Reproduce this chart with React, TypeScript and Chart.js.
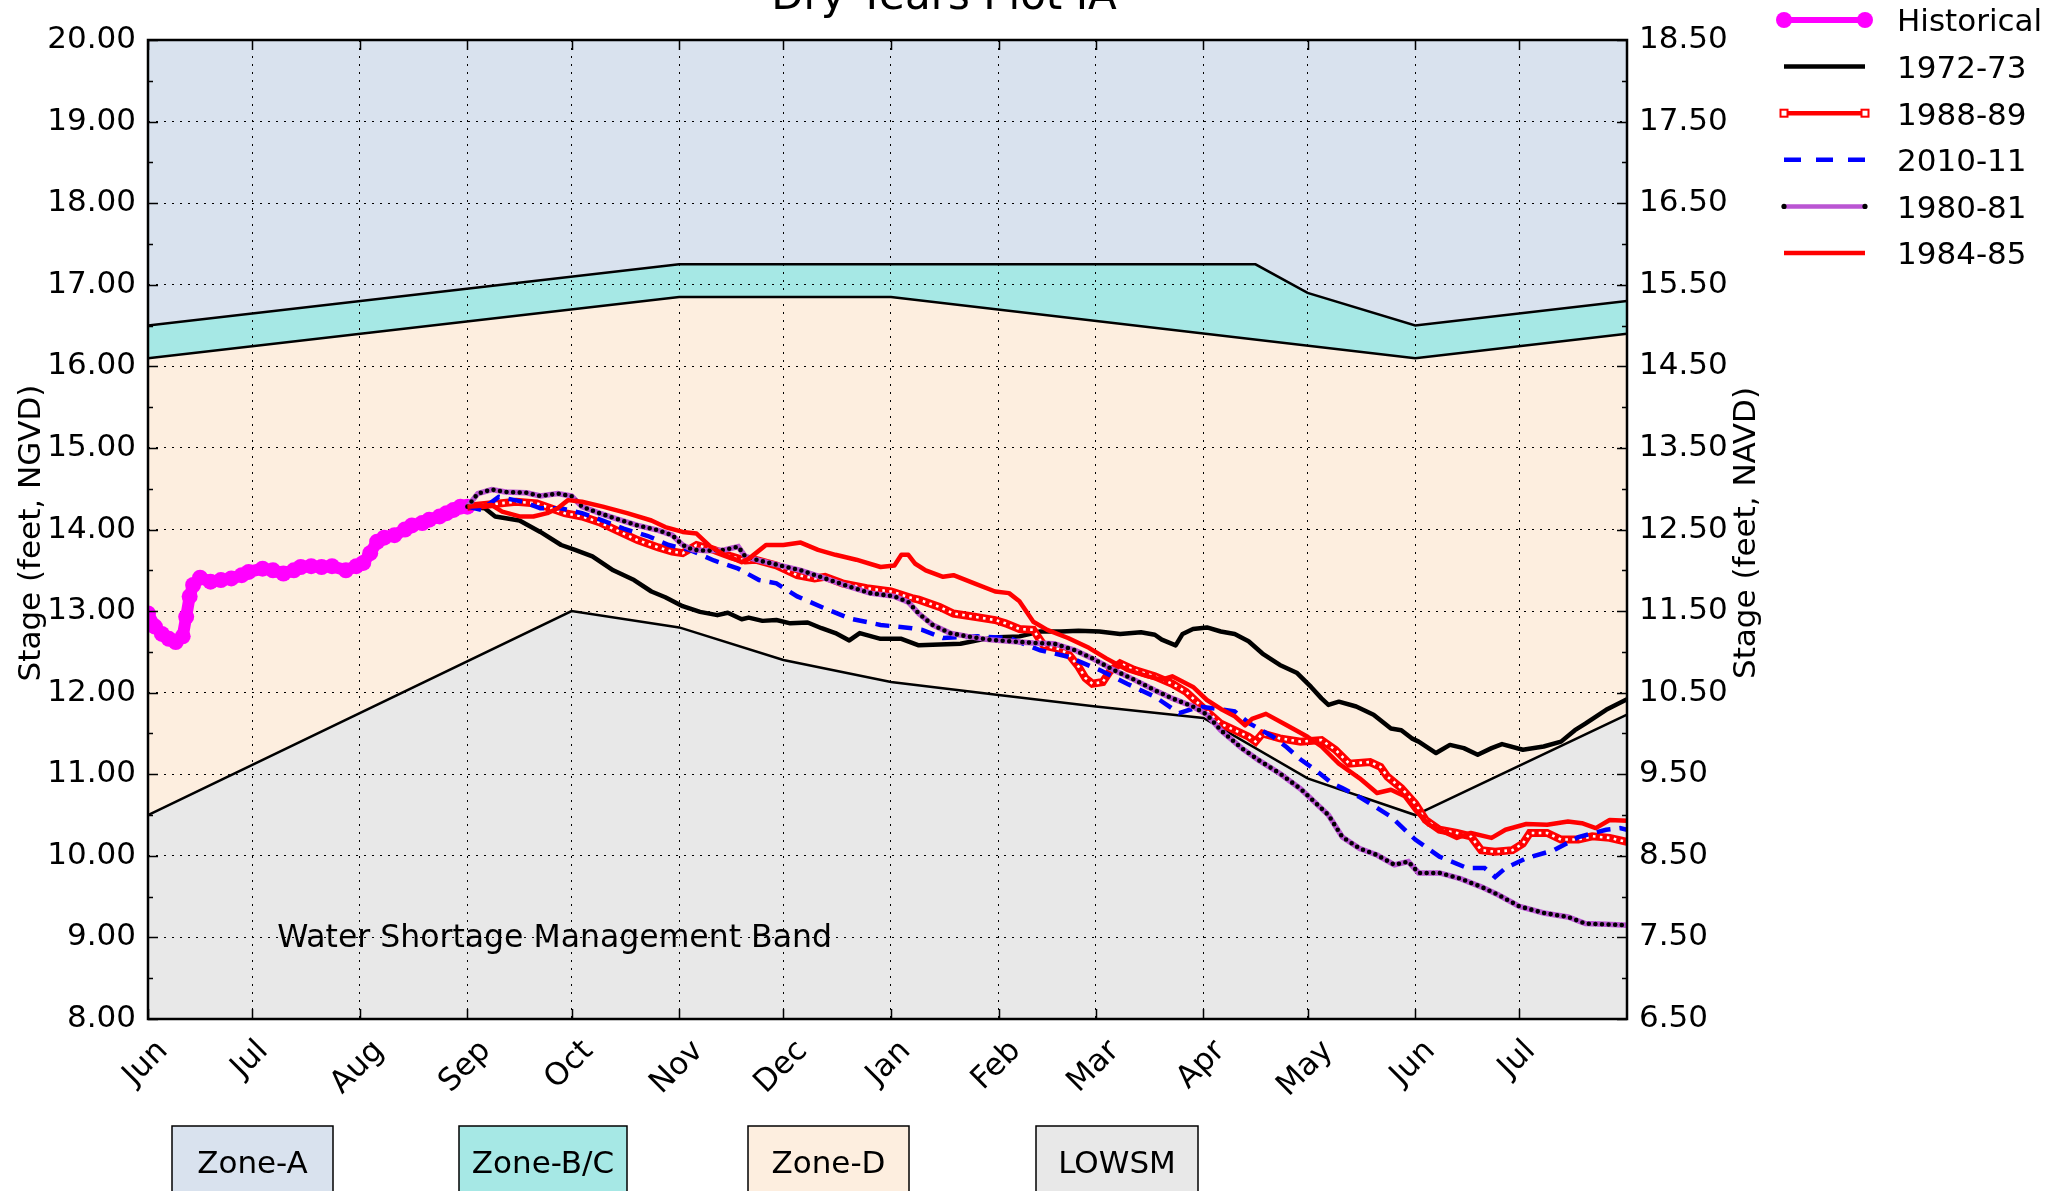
import React, { useEffect, useRef } from 'react';
import { Chart, registerables } from 'chart.js';

Chart.register(...registerables);

const W = 2057;
const H = 1191;
const FONT = '"DejaVu Sans", "Noto Sans", sans-serif';

// ---------- axis data ----------
const MONTH_LABELS = ['Jun', 'Jul', 'Aug', 'Sep', 'Oct', 'Nov', 'Dec', 'Jan', 'Feb', 'Mar', 'Apr', 'May', 'Jun', 'Jul'];
const MONTH_DAYS = [0, 30, 61, 92, 122, 153, 183, 214, 245, 273, 304, 334, 365, 395];
const X_MIN = 0;
const X_MAX = 426;
const Y_LEFT_TICKS = [8, 9, 10, 11, 12, 13, 14, 15, 16, 17, 18, 19, 20];
const Y_RIGHT_TICKS = [6.5, 7.5, 8.5, 9.5, 10.5, 11.5, 12.5, 13.5, 14.5, 15.5, 16.5, 17.5, 18.5];
const TITLE = 'Dry Years Plot IA';
const LEFT_TITLE = 'Stage (feet, NGVD)';
const RIGHT_TITLE = 'Stage (feet, NAVD)';
const BAND_TEXT = 'Water Shortage Management Band';

// ---------- zone boundaries ----------
const ZONE_A_DAYS = [0, 153, 319, 334, 365, 426];
const ZONE_A_VALS = [16.5, 17.25, 17.25, 16.9, 16.5, 16.8];
const ZONE_D_DAYS = [0, 153, 214, 365, 426];
const ZONE_D_VALS = [16.1, 16.85, 16.85, 16.1, 16.4];
const LOWSM_DAYS = [0, 122, 153, 183, 214, 245, 273, 304, 334, 365, 426];
const LOWSM_VALS = [10.5, 13.0, 12.8, 12.4, 12.13, 11.97, 11.83, 11.69, 10.95, 10.5, 11.73];

const ZONE_NAMES = ['Zone-A', 'Zone-B/C', 'Zone-D', 'LOWSM'];
const ZONE_COLORS = ['#D9E2EE', '#A6E8E5', '#FDEEDF', '#E8E8E8'];

// ---------- series ----------
const HIST_DAYS = [0, 2, 4, 6, 8, 10, 11, 12, 13, 15, 18, 21, 24, 27, 29, 33, 36, 39, 42, 44, 47, 50, 53, 57, 60, 62, 64, 66, 68, 71, 74, 76, 79, 81, 84, 86, 88, 90, 92];
const HIST_VALS = [12.97, 12.81, 12.72, 12.66, 12.62, 12.69, 12.93, 13.18, 13.32, 13.41, 13.36, 13.38, 13.40, 13.44, 13.48, 13.52, 13.50, 13.46, 13.50, 13.54, 13.55, 13.54, 13.55, 13.50, 13.55, 13.59, 13.71, 13.85, 13.90, 13.93, 14.00, 14.05, 14.08, 14.12, 14.16, 14.20, 14.24, 14.28, 14.28];

const Y1972_DAYS = [92, 97, 100, 107, 113, 119, 123, 128, 134, 140, 145, 149, 154, 159, 164, 167, 171, 173, 177, 181, 185, 190, 194, 198, 202, 205, 211, 217, 222, 234, 240, 245, 251, 257, 263, 268, 274, 280, 286, 290, 292, 296, 298, 301, 305, 309, 313, 317, 321, 326, 331, 335, 338, 340, 343, 348, 353, 358, 361, 364, 366, 371, 375, 379, 383, 387, 390, 396, 402, 407, 411, 414, 420, 426];
const Y1972_VALS = [14.28, 14.26, 14.16, 14.11, 13.97, 13.81, 13.75, 13.67, 13.50, 13.38, 13.24, 13.17, 13.06, 12.99, 12.95, 12.98, 12.90, 12.92, 12.88, 12.89, 12.85, 12.86, 12.79, 12.73, 12.64, 12.73, 12.66, 12.66, 12.58, 12.60, 12.65, 12.68, 12.69, 12.75, 12.75, 12.76, 12.75, 12.72, 12.74, 12.71, 12.65, 12.58, 12.72, 12.78, 12.80, 12.75, 12.72, 12.63, 12.48, 12.34, 12.24, 12.07, 11.93, 11.85, 11.89, 11.83, 11.73, 11.56, 11.54, 11.44, 11.40, 11.26, 11.36, 11.32, 11.24, 11.32, 11.37, 11.30, 11.34, 11.40, 11.54, 11.62, 11.79, 11.92];

const Y1988_DAYS = [92, 99, 106, 112, 116, 120, 125, 130, 135, 141, 147, 151, 154, 158, 163, 168, 172, 175, 181, 187, 192, 195, 200, 207, 214, 220, 222, 228, 232, 238, 244, 247, 251, 255, 258, 262, 265, 268, 270, 272, 275, 277, 280, 284, 290, 295, 299, 301, 305, 309, 313, 317, 319, 321, 326, 332, 338, 342, 346, 352, 355, 357, 361, 365, 368, 372, 377, 381, 384, 388, 393, 396, 398, 403, 407, 412, 416, 421, 426];
const Y1988_VALS = [14.28, 14.31, 14.34, 14.32, 14.26, 14.20, 14.16, 14.09, 13.99, 13.87, 13.78, 13.73, 13.71, 13.81, 13.75, 13.67, 13.62, 13.63, 13.56, 13.44, 13.40, 13.42, 13.34, 13.28, 13.24, 13.16, 13.14, 13.05, 12.97, 12.93, 12.89, 12.85, 12.78, 12.77, 12.58, 12.54, 12.48, 12.32, 12.18, 12.11, 12.13, 12.26, 12.36, 12.28, 12.20, 12.11, 12.01, 11.93, 11.77, 11.62, 11.54, 11.46, 11.40, 11.50, 11.44, 11.40, 11.42, 11.30, 11.13, 11.15, 11.09, 10.97, 10.83, 10.64, 10.44, 10.32, 10.28, 10.24, 10.07, 10.05, 10.07, 10.15, 10.28, 10.28, 10.20, 10.20, 10.24, 10.22, 10.17];

const Y2010_DAYS = [92, 96, 101, 108, 113, 119, 125, 131, 137, 144, 150, 156, 163, 170, 176, 181, 187, 194, 202, 211, 220, 223, 229, 239, 248, 257, 265, 274, 282, 290, 297, 303, 313, 317, 324, 328, 332, 336, 341, 344, 349, 358, 365, 372, 380, 385, 388, 391, 397, 405, 412, 420, 424, 426];
const Y2010_VALS = [14.28, 14.24, 14.40, 14.34, 14.26, 14.26, 14.20, 14.11, 14.01, 13.92, 13.81, 13.75, 13.62, 13.52, 13.38, 13.34, 13.18, 13.05, 12.91, 12.83, 12.79, 12.77, 12.67, 12.69, 12.67, 12.52, 12.44, 12.28, 12.11, 11.95, 11.75, 11.83, 11.77, 11.63, 11.46, 11.33, 11.18, 11.06, 10.89, 10.83, 10.72, 10.48, 10.20, 9.99, 9.85, 9.85, 9.74, 9.85, 9.97, 10.07, 10.23, 10.32, 10.34, 10.32];

const Y1980_DAYS = [92, 95, 99, 103, 109, 113, 118, 122, 125, 130, 135, 141, 147, 151, 154, 157, 161, 166, 170, 172, 176, 182, 188, 195, 202, 208, 215, 219, 222, 226, 231, 236, 242, 248, 255, 261, 267, 272, 278, 284, 290, 295, 301, 305, 309, 315, 320, 326, 332, 336, 340, 344, 349, 354, 359, 363, 366, 372, 378, 384, 389, 395, 402, 409, 414, 420, 426];
const Y1980_VALS = [14.28, 14.44, 14.49, 14.46, 14.45, 14.41, 14.44, 14.41, 14.28, 14.20, 14.13, 14.05, 13.99, 13.93, 13.81, 13.75, 13.74, 13.75, 13.79, 13.67, 13.62, 13.56, 13.50, 13.40, 13.30, 13.22, 13.18, 13.11, 12.97, 12.83, 12.73, 12.69, 12.65, 12.63, 12.61, 12.60, 12.52, 12.42, 12.28, 12.16, 12.03, 11.93, 11.83, 11.73, 11.54, 11.32, 11.17, 11.01, 10.82, 10.66, 10.50, 10.23, 10.09, 10.01, 9.89, 9.93, 9.79, 9.79, 9.72, 9.62, 9.52, 9.38, 9.30, 9.25, 9.17, 9.16, 9.15];

const Y1984_DAYS = [92, 99, 102, 107, 111, 115, 118, 121, 125, 131, 138, 145, 149, 154, 158, 162, 166, 171, 173, 178, 183, 188, 193, 198, 204, 211, 215, 217, 219, 221, 224, 229, 232, 238, 244, 248, 251, 255, 259, 265, 271, 276, 282, 288, 292, 295, 301, 305, 309, 313, 316, 318, 322, 328, 334, 338, 343, 349, 354, 358, 362, 365, 369, 373, 377, 381, 387, 391, 397, 403, 409, 413, 417, 421, 426];
const Y1984_VALS = [14.28, 14.30, 14.22, 14.16, 14.16, 14.20, 14.26, 14.36, 14.34, 14.28, 14.20, 14.11, 14.03, 13.97, 13.95, 13.79, 13.69, 13.60, 13.64, 13.81, 13.81, 13.84, 13.75, 13.69, 13.63, 13.54, 13.56, 13.69, 13.69, 13.58, 13.50, 13.42, 13.44, 13.34, 13.24, 13.22, 13.12, 12.87, 12.77, 12.67, 12.55, 12.42, 12.28, 12.20, 12.16, 12.20, 12.07, 11.91, 11.80, 11.71, 11.60, 11.68, 11.74, 11.60, 11.46, 11.34, 11.13, 10.95, 10.77, 10.81, 10.73, 10.56, 10.38, 10.30, 10.22, 10.28, 10.22, 10.32, 10.39, 10.38, 10.42, 10.40, 10.34, 10.44, 10.43];

const SERIES_NAMES = ['Historical', '1972-73', '1988-89', '2010-11', '1980-81', '1984-85'];

const MAGENTA = '#FF00FF';
const RED = '#FF0000';
const BLUE = '#0000FF';
const PURPLE = '#BA55D3';

const pts = (days: number[], vals: number[]) => days.map((d, i) => ({ x: d, y: vals[i] }));

function drawLegend(ctx: CanvasRenderingContext2D) {
  const x1 = 1784;
  const x2 = 1865;
  const y0 = 20;
  const dy = 46.6;
  ctx.save();
  SERIES_NAMES.forEach((name, i) => {
    const y = y0 + i * dy;
    ctx.setLineDash([]);
    ctx.lineCap = 'butt';
    if (i === 0) {
      ctx.strokeStyle = MAGENTA; ctx.lineWidth = 6;
      ctx.beginPath(); ctx.moveTo(x1, y); ctx.lineTo(x2, y); ctx.stroke();
      ctx.fillStyle = MAGENTA;
      [x1, x2].forEach((x) => { ctx.beginPath(); ctx.arc(x, y, 8, 0, Math.PI * 2); ctx.fill(); });
    } else if (i === 1) {
      ctx.strokeStyle = '#000'; ctx.lineWidth = 4.5;
      ctx.beginPath(); ctx.moveTo(x1, y); ctx.lineTo(x2, y); ctx.stroke();
    } else if (i === 2) {
      ctx.strokeStyle = RED; ctx.lineWidth = 4.5;
      ctx.beginPath(); ctx.moveTo(x1, y); ctx.lineTo(x2, y); ctx.stroke();
      [x1, x2].forEach((x) => {
        ctx.fillStyle = '#fff'; ctx.fillRect(x - 3.5, y - 3.5, 7, 7);
        ctx.strokeStyle = RED; ctx.lineWidth = 2; ctx.strokeRect(x - 3.5, y - 3.5, 7, 7);
      });
    } else if (i === 3) {
      ctx.strokeStyle = BLUE; ctx.lineWidth = 4.5; ctx.setLineDash([17, 15]);
      ctx.beginPath(); ctx.moveTo(x1, y); ctx.lineTo(x2, y); ctx.stroke();
      ctx.setLineDash([]);
    } else if (i === 4) {
      ctx.strokeStyle = PURPLE; ctx.lineWidth = 4.5;
      ctx.beginPath(); ctx.moveTo(x1, y); ctx.lineTo(x2, y); ctx.stroke();
      ctx.fillStyle = '#000';
      [x1, x2].forEach((x) => { ctx.beginPath(); ctx.arc(x, y, 2.6, 0, Math.PI * 2); ctx.fill(); });
    } else {
      ctx.strokeStyle = RED; ctx.lineWidth = 4.5;
      ctx.beginPath(); ctx.moveTo(x1, y); ctx.lineTo(x2, y); ctx.stroke();
    }
    ctx.fillStyle = '#000';
    ctx.font = `31px ${FONT}`;
    ctx.textAlign = 'left';
    ctx.textBaseline = 'alphabetic';
    ctx.fillText(name, 1897, y + 11.3);
  });
  ctx.restore();
}

const decorPlugin = {
  id: 'decor',
  afterDraw(chart: any) {
    const ctx: CanvasRenderingContext2D = chart.ctx;
    const { left, right, top, bottom } = chart.chartArea;
    const xs = chart.scales.x;
    const yl = chart.scales.y;
    ctx.save();

    // band text
    ctx.fillStyle = '#000';
    ctx.font = `31.5px ${FONT}`;
    ctx.textAlign = 'left';
    ctx.textBaseline = 'alphabetic';
    ctx.fillText(BAND_TEXT, xs.getPixelForValue(37.2), yl.getPixelForValue(9) + 10);

    // tick marks (inward)
    ctx.strokeStyle = '#000';
    ctx.lineWidth = 1.5;
    ctx.setLineDash([]);
    ctx.beginPath();
    MONTH_DAYS.forEach((d) => {
      const x = Math.round(xs.getPixelForValue(d)) + 0.5;
      ctx.moveTo(x, bottom); ctx.lineTo(x, bottom - 10);
      ctx.moveTo(x, top); ctx.lineTo(x, top + 10);
    });
    Y_LEFT_TICKS.forEach((v) => {
      const y = Math.round(yl.getPixelForValue(v)) + 0.5;
      ctx.moveTo(left, y); ctx.lineTo(left + 10, y);
      ctx.moveTo(right, y); ctx.lineTo(right - 10, y);
      if (v < 20) {
        const ym = Math.round(yl.getPixelForValue(v + 0.5)) + 0.5;
        ctx.moveTo(left, ym); ctx.lineTo(left + 5, ym);
        ctx.moveTo(right, ym); ctx.lineTo(right - 5, ym);
      }
    });
    ctx.stroke();

    // frame
    ctx.lineWidth = 2.5;
    ctx.strokeRect(left, top, right - left, bottom - top);

    // x tick labels, rotated 45 degrees
    ctx.font = `31px ${FONT}`;
    ctx.fillStyle = '#000';
    MONTH_LABELS.forEach((lab, i) => {
      const x = xs.getPixelForValue(MONTH_DAYS[i]);
      const w = ctx.measureText(lab).width;
      const half = ((w + 29) * Math.SQRT1_2) / 2;
      ctx.save();
      ctx.translate(x - 2, bottom + 17 + half);
      ctx.rotate(-Math.PI / 4);
      ctx.textAlign = 'center';
      ctx.textBaseline = 'middle';
      ctx.fillText(lab, 0, 0);
      ctx.restore();
    });

    // axis titles
    ctx.font = `31px ${FONT}`;
    ctx.textAlign = 'center';
    ctx.textBaseline = 'alphabetic';
    ctx.save();
    ctx.translate(40, 533);
    ctx.rotate(-Math.PI / 2);
    ctx.fillText(LEFT_TITLE, 0, 0);
    ctx.restore();
    ctx.save();
    ctx.translate(1755, 533);
    ctx.rotate(-Math.PI / 2);
    ctx.fillText(RIGHT_TITLE, 0, 0);
    ctx.restore();

    // title
    ctx.font = `42px ${FONT}`;
    ctx.textAlign = 'center';
    ctx.fillText(TITLE, 944, 9);

    // legend
    drawLegend(ctx);

    // zone boxes
    const boxX = [172, 459, 748, 1036];
    const boxW = [161, 168, 161, 162];
    ZONE_NAMES.forEach((name, i) => {
      ctx.fillStyle = ZONE_COLORS[i];
      ctx.fillRect(boxX[i], 1126, boxW[i], 90);
      ctx.strokeStyle = '#000';
      ctx.lineWidth = 1.5;
      ctx.strokeRect(boxX[i], 1126, boxW[i], 90);
      ctx.fillStyle = '#000';
      ctx.font = `31px ${FONT}`;
      ctx.textAlign = 'center';
      ctx.textBaseline = 'alphabetic';
      ctx.fillText(name, boxX[i] + boxW[i] / 2, 1173);
    });

    ctx.restore();
  },
};

export default function App() {
  const ref = useRef<HTMLCanvasElement | null>(null);

  useEffect(() => {
    if (!ref.current) return;
    const zoneLine = {
      borderColor: '#000',
      borderWidth: 2.5,
      pointRadius: 0,
      tension: 0,
    };
    const chart = new Chart(ref.current, {
      type: 'line',
      data: {
        datasets: [
          // index 0: LOWSM band (fill down to the axis)
          { ...zoneLine, label: 'lowsmFill', data: pts(LOWSM_DAYS, LOWSM_VALS), fill: 'start', backgroundColor: ZONE_COLORS[3], borderWidth: 0, order: 104 },
          // index 1: Zone A (above its line)
          { ...zoneLine, label: 'zoneA', data: pts(ZONE_A_DAYS, ZONE_A_VALS), fill: 'end', backgroundColor: ZONE_COLORS[0], order: 103 },
          // index 2: Zone B/C between Zone A line and Zone D line
          { ...zoneLine, label: 'zoneD', data: pts(ZONE_D_DAYS, ZONE_D_VALS), fill: '-1', backgroundColor: ZONE_COLORS[1], order: 102 },
          // index 3: Zone D between Zone D line and LOWSM line
          { ...zoneLine, label: 'lowsm', data: pts(LOWSM_DAYS, LOWSM_VALS), fill: '-1', backgroundColor: ZONE_COLORS[2], order: 101 },
          {
            label: SERIES_NAMES[0], data: pts(HIST_DAYS, HIST_VALS), borderColor: MAGENTA, borderWidth: 12,
            pointRadius: 8, pointBackgroundColor: MAGENTA, pointBorderWidth: 0, fill: false, tension: 0, order: 20,
            borderJoinStyle: 'round', borderCapStyle: 'round',
          },
          {
            label: SERIES_NAMES[1], data: pts(Y1972_DAYS, Y1972_VALS), borderColor: '#000', borderWidth: 4.5,
            pointRadius: 0, fill: false, tension: 0, order: 18, borderJoinStyle: 'round',
          },
          {
            label: SERIES_NAMES[2], data: pts(Y1988_DAYS, Y1988_VALS), borderColor: RED, borderWidth: 8,
            pointRadius: 0, fill: false, tension: 0, order: 16,
          },
          {
            label: '1988-89 markers', data: pts(Y1988_DAYS, Y1988_VALS), borderColor: '#FFFFFF', borderWidth: 2.6,
            borderDash: [2.6, 4.4], pointRadius: 0, fill: false, tension: 0, order: 15,
          },
          {
            label: SERIES_NAMES[3], data: pts(Y2010_DAYS, Y2010_VALS), borderColor: BLUE, borderWidth: 4.5,
            borderDash: [14, 9], pointRadius: 0, fill: false, tension: 0, order: 14,
          },
          {
            label: SERIES_NAMES[4], data: pts(Y1980_DAYS, Y1980_VALS), borderColor: PURPLE, borderWidth: 5.5,
            pointRadius: 0, fill: false, tension: 0, order: 12,
          },
          {
            label: '1980-81 markers', data: pts(Y1980_DAYS, Y1980_VALS), borderColor: '#000', borderWidth: 4.6,
            borderDash: [0, 6.6], borderCapStyle: 'round', pointRadius: 0, fill: false, tension: 0, order: 11,
          },
          {
            label: SERIES_NAMES[5], data: pts(Y1984_DAYS, Y1984_VALS), borderColor: RED, borderWidth: 4.5,
            pointRadius: 0, fill: false, tension: 0, order: 10, borderJoinStyle: 'round',
          },
        ],
      },
      options: {
        responsive: false,
        maintainAspectRatio: false,
        devicePixelRatio: 1,
        animation: false,
        events: [],
        layout: { padding: { top: 40, left: 0, right: 0, bottom: 0 } },
        plugins: {
          legend: { display: false },
          title: { display: false },
          tooltip: { enabled: false },
          filler: { drawTime: 'beforeDraw' },
        },
        scales: {
          x: {
            type: 'linear',
            min: X_MIN,
            max: X_MAX,
            afterBuildTicks: (s: any) => { s.ticks = MONTH_DAYS.map((v) => ({ value: v })); },
            afterFit: (s: any) => { s.height = H - 1019; },
            ticks: { display: false },
            grid: { display: true, color: '#000', lineWidth: 1, drawTicks: false },
            border: { display: false, dash: [2, 6] },
          },
          y: {
            type: 'linear',
            position: 'left',
            min: 8,
            max: 20,
            afterBuildTicks: (s: any) => { s.ticks = Y_LEFT_TICKS.map((v) => ({ value: v })); },
            afterFit: (s: any) => { s.width = 148; },
            ticks: {
              color: '#000',
              padding: 12,
              autoSkip: false,
              font: { family: FONT, size: 31 },
              callback: (v: any) => Number(v).toFixed(2),
            },
            grid: { display: true, color: '#000', lineWidth: 1, drawTicks: false },
            border: { display: false, dash: [2, 6] },
          },
          y2: {
            type: 'linear',
            position: 'right',
            min: 6.5,
            max: 18.5,
            afterBuildTicks: (s: any) => { s.ticks = Y_RIGHT_TICKS.map((v) => ({ value: v })); },
            afterFit: (s: any) => { s.width = W - 1627; },
            ticks: {
              color: '#000',
              padding: 12,
              autoSkip: false,
              font: { family: FONT, size: 31 },
              callback: (v: any) => Number(v).toFixed(2),
            },
            grid: { display: false, drawTicks: false },
            border: { display: false },
          },
        },
      },
      plugins: [decorPlugin],
    } as any);
    return () => chart.destroy();
  }, []);

  return (
    <div style={{ position: 'absolute', left: 0, top: 0, width: W, height: H, background: '#fff' }}>
      <canvas ref={ref} width={W} height={H} style={{ display: 'block', width: W, height: H }} />
    </div>
  );
}
